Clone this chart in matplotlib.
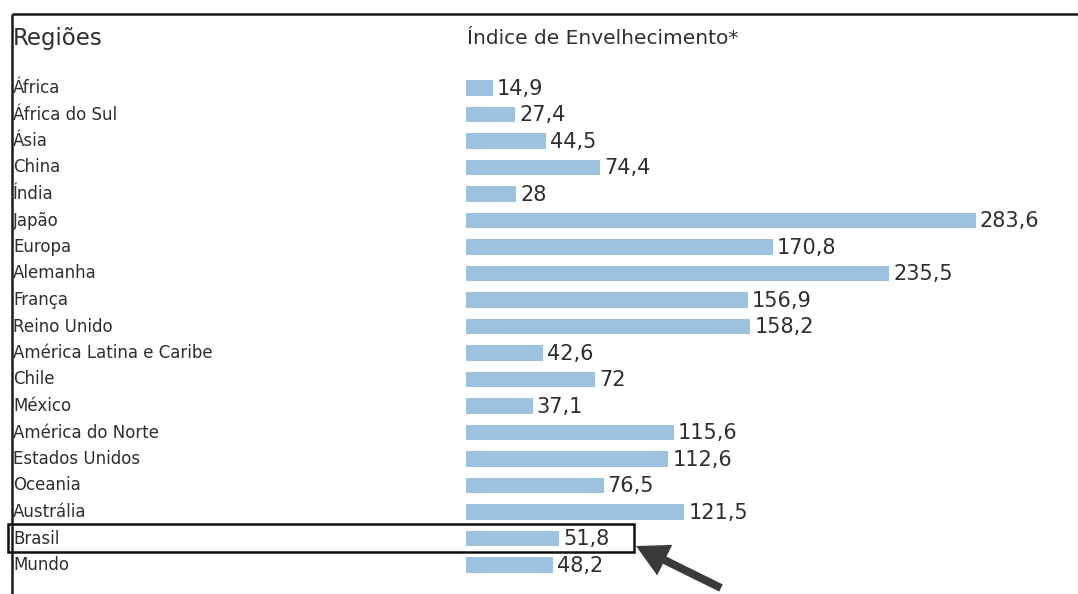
import matplotlib
matplotlib.use("Agg")
import matplotlib.pyplot as plt
from matplotlib.patches import Rectangle, FancyArrow

regioes = ["África", "África do Sul", "Ásia", "China", "Índia", "Japão", "Europa",
           "Alemanha", "França", "Reino Unido", "América Latina e Caribe", "Chile",
           "México", "América do Norte", "Estados Unidos", "Oceania", "Austrália",
           "Brasil", "Mundo"]
indice = [14.9, 27.4, 44.5, 74.4, 28, 283.6, 170.8, 235.5, 156.9, 158.2, 42.6, 72,
          37.1, 115.6, 112.6, 76.5, 121.5, 51.8, 48.2]
rotulos = ["14,9", "27,4", "44,5", "74,4", "28", "283,6", "170,8", "235,5", "156,9",
           "158,2", "42,6", "72", "37,1", "115,6", "112,6", "76,5", "121,5", "51,8", "48,2"]
titulo_col1 = "Regiões"
titulo_col2 = "Índice de Envelhecimento*"
destaque = "Brasil"

W, H = 1078, 594
fig = plt.figure(figsize=(W / 100, H / 100), dpi=100)
ax = fig.add_axes([0, 0, 1, 1])
ax.axis("off")

# layout in pixels: bar origin, pixels per unit, first row centre and row pitch
x0, sx = 466, 1.798
y0, sy = 88, 26.5
ax.set_xlim(-x0 / sx, (W - x0) / sx)
ax.set_ylim((H - y0) / sy, -y0 / sy)


def px(x):
    return (x - x0) / sx


def py(y):
    return (y - y0) / sy


font = ["DejaVu Sans"]
txt = "#2e2e2e"
n = len(regioes)
rows = list(range(n))

ax.barh(rows, indice, height=0.6, left=0, color="#9cc2dd", edgecolor="none")

for i, (nome, v, r) in enumerate(zip(regioes, indice, rotulos)):
    ax.text(px(13), i, nome, ha="left", va="center", fontsize=12,
            family=font, color=txt)
    ax.text(v + px(470), i + 0.02, r, ha="left", va="center", fontsize=15,
            family=font, color=txt)

ax.text(px(13), py(39), titulo_col1, ha="left", va="center", fontsize=16.5,
        family=font, color=txt)
ax.text(px(467), py(39), titulo_col2, ha="left", va="center", fontsize=14.5,
        family=font, color=txt)

# frame: top and left rules
ax.plot([px(12), px(W)], [py(14), py(14)], color="#1a1a1a", lw=1.8,
        solid_capstyle="butt")
ax.plot([px(12), px(12)], [py(14), py(H)], color="#1a1a1a", lw=1.8,
        solid_capstyle="butt")

# highlight box around the Brasil row
k = regioes.index(destaque)
ax.add_patch(Rectangle((px(8), k - 0.55), indice[k] + px(466 + 75) - px(8), 1.05,
                       fill=False, edgecolor="#111111", lw=1.8))

# arrow pointing at the highlighted row
arrow_ax = fig.add_axes([0, 0, 1, 1], facecolor="none")
arrow_ax.axis("off")
arrow_ax.set_xlim(0, W)
arrow_ax.set_ylim(H, 0)
arrow_ax.add_patch(FancyArrow(721, 588, 636 - 721, 546 - 588, width=8,
                              head_width=34, head_length=32,
                              length_includes_head=True,
                              color="#3a3a3a", lw=0))

fig.savefig("out.png", dpi=100, facecolor="white")
